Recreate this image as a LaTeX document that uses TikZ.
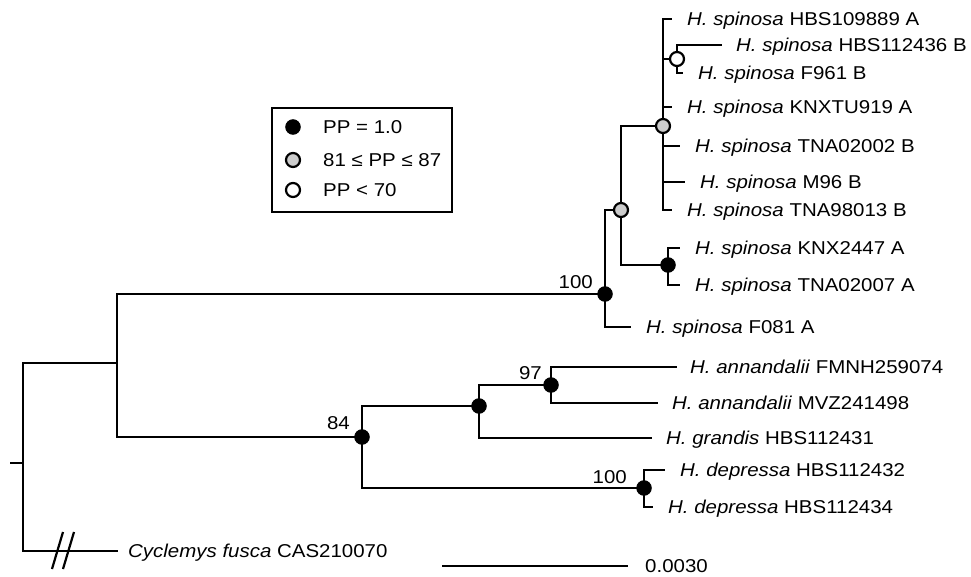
\documentclass[tikz,border=0pt]{standalone}
\usepackage{fontspec}
\setmainfont{Liberation Sans}[FakeStretch=1.1]
\begin{document}
\begin{tikzpicture}[x=1pt,y=-1pt,
  br/.style={line width=2.6pt, line join=miter},
  tip/.style={anchor=base west, inner sep=0pt, yshift=-6.6pt, font=\fontsize{18.6}{22}\selectfont},
  lab/.style={anchor=base east, inner sep=0pt, yshift=-6.6pt, font=\fontsize{18.6}{22}\selectfont},
  pblack/.style={circle, fill=black, draw=black, line width=1pt, minimum size=14.5pt, inner sep=0pt},
  pgrey/.style={circle, fill=black!20, draw=black, line width=2.2pt, minimum size=14pt, inner sep=0pt},
  popen/.style={circle, fill=white, draw=black, line width=2.2pt, minimum size=14pt, inner sep=0pt}]
\useasboundingbox (0,0) rectangle (971,577);

% internal nodes
\coordinate (R0) at (10,463);
\coordinate (R) at (23,463);
\coordinate (I) at (117,363);
\coordinate (S100) at (605,294);
\coordinate (G1) at (621,210);
\coordinate (G2) at (663,126);
\coordinate (O) at (677,59);
\coordinate (K) at (668,265);
\coordinate (N84) at (362,437);
\coordinate (N480) at (479,406);
\coordinate (N97) at (551,385);
\coordinate (ND) at (644,488);

% tip ends
\coordinate (e1) at (672,19);
\coordinate (e2) at (722,45);
\coordinate (e3) at (683,73);
\coordinate (e4) at (672,107);
\coordinate (e5) at (680,146);
\coordinate (e6) at (685,182);
\coordinate (e7) at (672,210);
\coordinate (e8) at (680,248);
\coordinate (e9) at (680,285);
\coordinate (e10) at (631,327);
\coordinate (e11) at (677,367);
\coordinate (e12) at (658,403);
\coordinate (e13) at (652,438);
\coordinate (e14) at (665,470);
\coordinate (e15) at (653,507);
\coordinate (e16) at (118,551);

% tip labels
\node[tip] (t1) at (687,19) {\textit{H. spinosa} HBS109889 A};
\node[tip] (t2) at (736,45) {\textit{H. spinosa} HBS112436 B};
\node[tip] (t3) at (698,73) {\textit{H. spinosa} F961 B};
\node[tip] (t4) at (687,107) {\textit{H. spinosa} KNXTU919 A};
\node[tip] (t5) at (695,146) {\textit{H. spinosa} TNA02002 B};
\node[tip] (t6) at (700,182) {\textit{H. spinosa} M96 B};
\node[tip] (t7) at (687,210) {\textit{H. spinosa} TNA98013 B};
\node[tip] (t8) at (695,248) {\textit{H. spinosa} KNX2447 A};
\node[tip] (t9) at (695,285) {\textit{H. spinosa} TNA02007 A};
\node[tip] (t10) at (646,327) {\textit{H. spinosa} F081 A};
\node[tip] (t11) at (690,367) {\textit{H. annandalii} FMNH259074};
\node[tip] (t12) at (672,403) {\textit{H. annandalii} MVZ241498};
\node[tip] (t13) at (666,438) {\textit{H. grandis} HBS112431};
\node[tip] (t14) at (680,470) {\textit{H. depressa} HBS112432};
\node[tip] (t15) at (668,507) {\textit{H. depressa} HBS112434};
\node[tip] (t16) at (128,551) {\textit{Cyclemys fusca} CAS210070};

% branches
\draw[br] (R0) -- (R);
\draw[br] (R) |- (I);
\draw[br] (R) |- (e16);
\draw[br] (I) |- (S100);
\draw[br] (I) |- (N84);
\draw[br] (S100) |- (G1);
\draw[br] (S100) |- (e10);
\draw[br] (G1) |- (G2);
\draw[br] (G1) |- (K);
\draw[br] (G2) |- (e1);
\draw[br] (G2) |- (O);
\draw[br] (G2) |- (e4);
\draw[br] (G2) |- (e5);
\draw[br] (G2) |- (e6);
\draw[br] (G2) |- (e7);
\draw[br] (O) |- (e2);
\draw[br] (O) |- (e3);
\draw[br] (K) |- (e8);
\draw[br] (K) |- (e9);
\draw[br] (N84) |- (N480);
\draw[br] (N84) |- (ND);
\draw[br] (N480) |- (N97);
\draw[br] (N480) |- (e13);
\draw[br] (N97) |- (e11);
\draw[br] (N97) |- (e12);
\draw[br] (ND) |- (e14);
\draw[br] (ND) |- (e15);

% break marks on outgroup branch
\coordinate (s1a) at (52,569); \coordinate (s1b) at (63,532);
\coordinate (s2a) at (63,569); \coordinate (s2b) at (74,532);
\draw[line width=2.2pt] (s1a) -- (s1b);
\draw[line width=2.2pt] (s2a) -- (s2b);

% node markers
\node[pblack] (m1) at (S100) {};
\node[pgrey] (m2) at (G1) {};
\node[pgrey] (m3) at (G2) {};
\node[popen] (m4) at (O) {};
\node[pblack] (m5) at (K) {};
\node[pblack] (m6) at (N84) {};
\node[pblack] (m7) at (N480) {};
\node[pblack] (m8) at (N97) {};
\node[pblack] (m9) at (ND) {};

% support labels
\node[lab] (l1) at (593,282) {100};
\node[lab] (l2) at (350,423) {84};
\node[lab] (l3) at (542,373) {97};
\node[lab] (l4) at (627,477) {100};

% scale bar
\coordinate (sb1) at (442,566);
\coordinate (sb2) at (628,566);
\draw[line width=2.6pt] (sb1) -- (sb2);
\node[tip] (sbt) at (645,566) {0.0030};

% legend
\node[draw=black, line width=2.2pt, minimum width=180pt, minimum height=104pt, inner sep=0pt] (leg) at (362,160) {};
\node[pblack] (k1) at (293,127) {};
\node[pgrey] (k2) at (293,160) {};
\node[popen] (k3) at (293,190) {};
\node[tip] (kt1) at (323,127) {PP = 1.0};
\node[tip] (kt2) at (323,160) {81 ≤ PP ≤ 87};
\node[tip] (kt3) at (323,190) {PP < 70};
\end{tikzpicture}
\end{document}
